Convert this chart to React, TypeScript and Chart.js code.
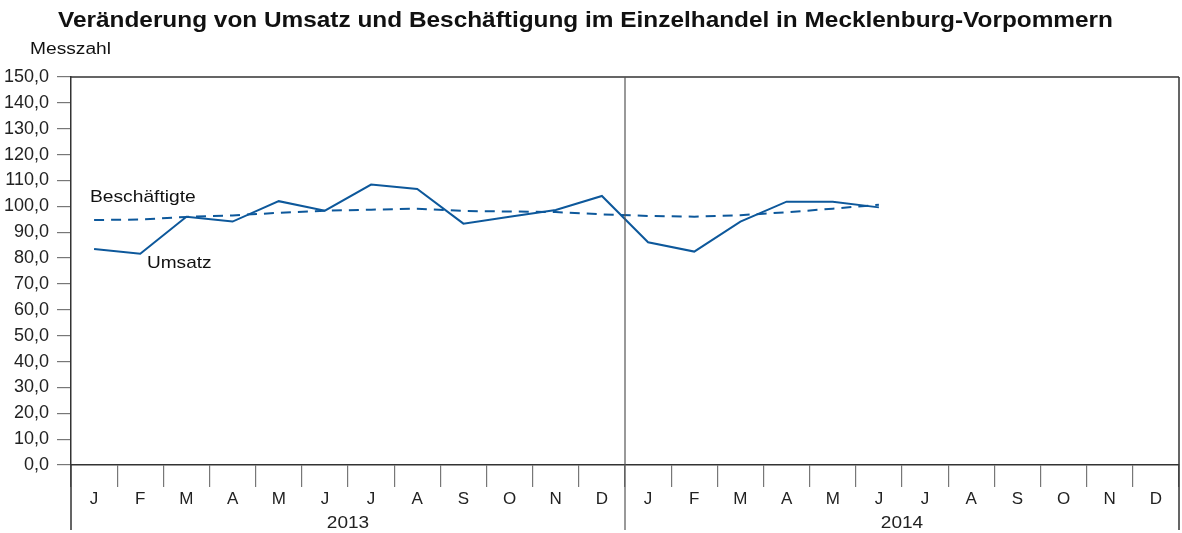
import React, { useEffect, useRef } from "react";
import { Chart, registerables } from "chart.js";

Chart.register(...registerables);

const months = ["J", "F", "M", "A", "M", "J", "J", "A", "S", "O", "N", "D"];
const years = ["2013", "2014"];
const categories = [...months, ...months];
const umsatz = [83.5, 81.7, 96.0, 94.1, 102.0, 98.3, 108.4, 106.7, 93.3, 96.0, 98.6, 104.0, 86.1, 82.5, 94.1, 101.8, 101.8, 99.6, null, null, null, null, null, null];
const beschaeftigte = [94.7, 94.9, 95.9, 96.5, 97.5, 98.3, 98.7, 99.1, 98.2, 98.0, 97.8, 96.9, 96.3, 96.0, 96.6, 97.7, 99.1, 100.6, null, null, null, null, null, null];
const titleText = "Veränderung von Umsatz und Beschäftigung im Einzelhandel in Mecklenburg-Vorpommern";
const yAxisTitle = "Messzahl";

const FONT = "'Liberation Sans', Arial, sans-serif";
const LINE = "#0d589b";

function stretchText(ctx: any, text: string, x: number, y: number, align: string, sx: number) {
  ctx.save();
  ctx.translate(x, y);
  ctx.scale(sx, 1);
  ctx.textAlign = align;
  ctx.fillText(text, 0, 0);
  ctx.restore();
}

const decor = {
  id: "decor",
  afterDraw(chart: any) {
    const { ctx, chartArea, scales } = chart;
    const x = scales.x;
    const { left, right, top, bottom } = chartArea;
    ctx.save();
    // borders
    ctx.strokeStyle = "#333";
    ctx.lineWidth = 1.5;
    ctx.beginPath();
    ctx.moveTo(left, top);
    ctx.lineTo(right, top);
    ctx.moveTo(right, top);
    ctx.lineTo(right, 530);
    ctx.moveTo(left, bottom);
    ctx.lineTo(left, 530);
    ctx.stroke();
    // year separator
    const sep = (x.getPixelForValue(11) + x.getPixelForValue(12)) / 2;
    ctx.strokeStyle = "#555";
    ctx.lineWidth = 1.2;
    ctx.beginPath();
    ctx.moveTo(sep, top);
    ctx.lineTo(sep, 530);
    ctx.stroke();
    ctx.textBaseline = "middle";
    // year labels
    ctx.fillStyle = "#222";
    ctx.font = `17px ${FONT}`;
    stretchText(ctx, years[0], (left + sep) / 2, 523, "center", 1.12);
    stretchText(ctx, years[1], (sep + right) / 2, 523, "center", 1.12);
    // title
    ctx.font = `bold 22px ${FONT}`;
    ctx.fillStyle = "#111";
    const tw = ctx.measureText(titleText).width;
    stretchText(ctx, titleText, 585.5, 20.5, "center", 1055 / tw);
    // axis title
    ctx.font = `16px ${FONT}`;
    const mw = ctx.measureText(yAxisTitle).width;
    stretchText(ctx, yAxisTitle, 30, 50, "left", 81 / mw);
    // series labels
    const y = scales.y;
    ctx.font = `17px ${FONT}`;
    stretchText(ctx, "Beschäftigte", 90, y.getPixelForValue(beschaeftigte[0] as number) - 23, "left", 1.13);
    stretchText(ctx, "Umsatz", 147, y.getPixelForValue(umsatz[1] as number) + 10, "left", 1.12);
    ctx.restore();
  },
};

export default function App() {
  const ref = useRef<HTMLCanvasElement>(null);
  useEffect(() => {
    if (!ref.current) return;
    const chart = new Chart(ref.current, {
      type: "line",
      data: {
        labels: categories,
        datasets: [
          {
            label: "Umsatz",
            data: umsatz,
            borderColor: LINE,
            borderWidth: 2,
            pointRadius: 0,
            tension: 0,
            spanGaps: false,
          },
          {
            label: "Beschäftigte",
            data: beschaeftigte,
            borderColor: LINE,
            borderWidth: 2,
            borderDash: [10, 7],
            pointRadius: 0,
            tension: 0,
          },
        ],
      },
      options: {
        responsive: false,
        animation: false,
        layout: { padding: { top: 77, left: 0, right: 3, bottom: 0 } },
        plugins: { legend: { display: false }, tooltip: { enabled: false } },
        scales: {
          x: {
            offset: true,
            grid: {
              offset: true,
              drawOnChartArea: false,
              drawTicks: true,
              tickLength: 22,
              color: "#777",
              lineWidth: 1.2,
            },
            border: { display: true, color: "#333", width: 1.5 },
            ticks: {
              font: { family: FONT, size: 17 },
              color: "#222",
              padding: 2,
              autoSkip: false,
              maxRotation: 0,
            },
            afterFit(scale: any) {
              scale.height = 68;
            },
          },
          y: {
            min: 0,
            max: 150,
            grid: {
              drawOnChartArea: false,
              drawTicks: true,
              tickLength: 14,
              color: "#777",
              lineWidth: 1.2,
            },
            border: { display: true, color: "#333", width: 1.5 },
            ticks: {
              stepSize: 10,
              font: { family: FONT, size: 18 },
              color: "#222",
              padding: 8,
              callback: (v: any) => Number(v).toFixed(1).replace(".", ","),
            },
            afterFit(scale: any) {
              scale.width = 71;
            },
          },
        },
      },
      plugins: [decor],
    });
    return () => chart.destroy();
  }, []);
  return (
    <div style={{ position: "absolute", left: 0, top: 0, width: 1182, height: 533 }}>
      <canvas ref={ref} width={1182} height={533} />
    </div>
  );
}
